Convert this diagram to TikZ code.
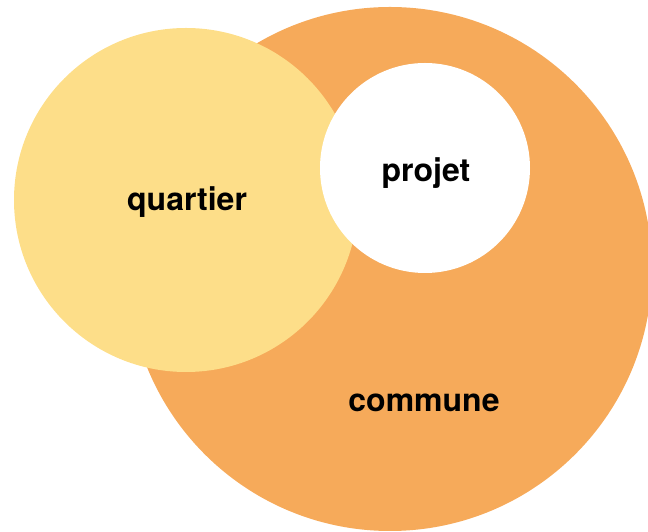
\documentclass[tikz,border=0pt]{standalone}
\usepackage{fontspec}
\setmainfont{TeX Gyre Heros}
\usetikzlibrary{positioning}
\usepackage{xcolor}
\newcommand{\myunit}{1pt}
\tikzset{
    discsty/.style={circle,inner sep=0pt,anchor=center},
    communesty/.style={discsty,fill=communeorange,minimum size=524*\myunit},
    quartiersty/.style={discsty,fill=quartieryellow,minimum size=344*\myunit},
    projetsty/.style={discsty,fill=white,minimum size=210*\myunit},
    namesty/.style={anchor=base,text=black,font=\bfseries\fontsize{32}{38}\selectfont},
}
\definecolor{communeorange}{RGB}{246,170,90}
\definecolor{quartieryellow}{RGB}{253,222,137}

\begin{document}
\begin{tikzpicture}[x=\myunit,y=\myunit]
  \useasboundingbox (0,0) rectangle (648,532);
  \clip (0,0) rectangle (648,532);

  \node[communesty]  (commune)  at (390,263) {};
  \node[quartiersty] (quartier) at (186,332) {};
  \node[projetsty]   (projet)   at (425,364) {};

  \node[namesty] (quartiername) at (187,321) {quartier};
  \node[namesty] (projetname)   at (426,350) {projet};
  \node[namesty] (communename)  at (424,120) {commune};
\end{tikzpicture}
\end{document}
